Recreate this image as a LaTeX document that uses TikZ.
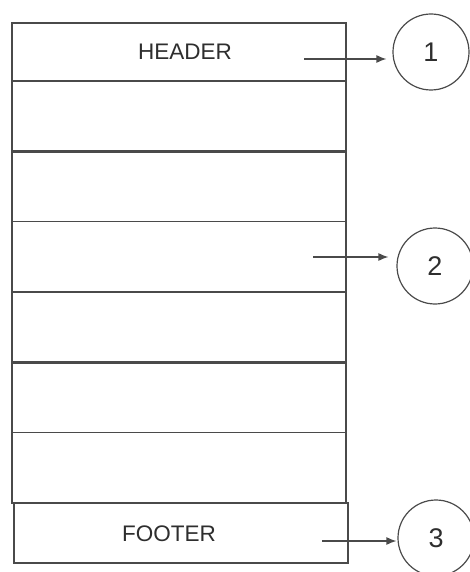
\documentclass[tikz,border=0pt]{standalone}
\usepackage{fontspec}
\setmainfont{Liberation Sans}
\usetikzlibrary{arrows.meta}
\usetikzlibrary{positioning}
\definecolor{linegray}{HTML}{4A4A4A}
\definecolor{textgray}{HTML}{2E2E2E}
\tikzset{row/.style = {draw = linegray, line width = 1.6, minimum width = 334, minimum height = 70.3, inner sep = 0, outer sep = 0}}
\tikzset{sep/.style = {draw = linegray, line width = 2.6}}
\tikzset{num/.style = {draw = linegray, line width = 1.2, circle, minimum size = 76, inner sep = 0, text = textgray, font = \fontsize{27}{30}\selectfont}}
\tikzset{lbl/.style = {text = textgray, font = \fontsize{22.5}{26}\selectfont}}
\tikzset{ptr/.style = {draw = linegray, line width = 1.2, -{Latex[length = 10, width = 8]}}}

\begin{document}
\begin{tikzpicture}[x = 1pt, y = -1pt]
            \useasboundingbox (0,0) rectangle (469,572);
            \node [row, minimum height = 58] (header) at (179,52) {};
            \node [row, below = 0pt of header] (rowa) {};
            \node [row, below = 0pt of rowa] (rowb) {};
            \node [row, below = 0pt of rowb] (rowc) {};
            \node [row, below = 0pt of rowc] (rowd) {};
            \node [row, below = 0pt of rowd] (rowe) {};
            \node [row, below = 0pt of rowe] (rowf) {};
            \node [row, minimum height = 60, below = 0pt of rowf, xshift = 2] (footer) {};
            \draw [sep] (rowb.north west) -- (rowb.north east);
            \draw [sep] (rowd.north west) -- (rowd.north east);
            \draw [sep] (rowe.north west) -- (rowe.north east);
            \draw [sep] (footer.south west) -- (footer.south east);
            \node [lbl] (htext) at (185,52) {HEADER};
            \node [lbl] (ftext) at (169,534) {FOOTER};
            \node [num] (one) at (431,52) {1};
            \node [num] (two) at (435,266) {2};
            \node [num] (three) at (436,538) {3};
            \coordinate (ha) at (304,59);
            \coordinate (ra) at (313,257);
            \coordinate (fa) at (322,541);
            \draw [ptr, shorten > = 6] (ha) -- (ha -| one.west);
            \draw [ptr, shorten > = 8] (ra) -- (ra -| two.west);
            \draw [ptr, shorten > = 1] (fa) -- (fa -| three.west);
        \end{tikzpicture}
\end{document}
